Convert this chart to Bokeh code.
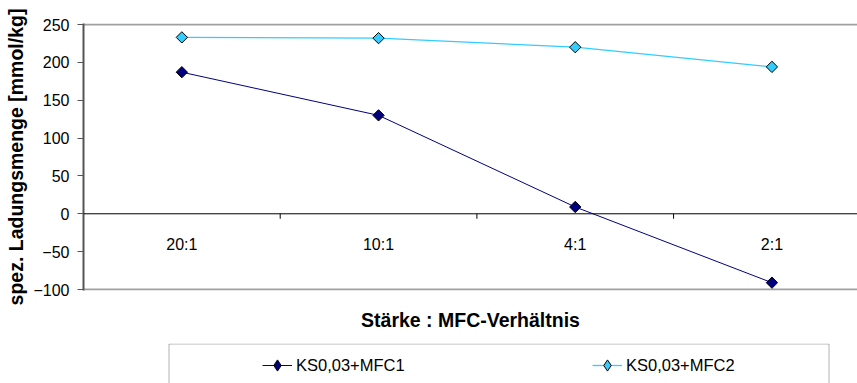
import math
from bokeh.plotting import figure
from bokeh.layouts import column
from bokeh.models import (Range1d, FixedTicker, Span, Legend, LegendItem,
                          BoxAnnotation, ColumnDataSource)
from bokeh.core.properties import value
from bokeh.embed import file_html
from bokeh.resources import INLINE

# ---- data ----
categories = ["20:1", "10:1", "4:1", "2:1"]
mfc1 = [187, 130, 9, -91]
mfc2 = [233, 232, 220, 194]
series_names = ["KS0,03+MFC1", "KS0,03+MFC2"]
y_ticks = [-100, -50, 0, 50, 100, 150, 200, 250]
x_title = "Stärke : MFC-Verhältnis"
y_title = "spez. Ladungsmenge [mmol/kg]"

FONT = "Liberation Sans"
C1_LINE, C1_FILL = "#000080", "#000080"
C2_LINE, C2_FILL = "#33CCFF", "#33CCFF"

xs = list(range(len(categories)))
bounds = [i + 0.5 for i in xs]
src = ColumnDataSource(dict(x=xs, mfc1=mfc1, mfc2=mfc2))

# y range padded by one pixel so the border lines at 250 / -100 stay inside the frame
px_per_unit = 265 / 350
pad = 1 / px_per_unit

p = figure(width=857, height=343, output_backend="svg", toolbar_location=None,
           x_range=Range1d(-0.5, 3.435),
           y_range=Range1d(y_ticks[0] - pad, y_ticks[-1] + pad),
           min_border_left=83, min_border_right=0, min_border_top=23,
           min_border_bottom=53)
p.outline_line_color = None
p.background_fill_color = "white"
p.border_fill_color = "white"

# x axis only carries the title
xa = p.xaxis[0]
xa.ticker = FixedTicker(ticks=[])
xa.axis_line_color = None
xa.major_tick_line_color = None
xa.minor_tick_line_color = None
xa.major_label_standoff = 0
xa.axis_label = x_title
xa.axis_label_text_font = FONT
xa.axis_label_text_font_style = "bold"
xa.axis_label_text_font_size = "19.5px"
xa.axis_label_text_color = "black"
xa.axis_label_standoff = 18

p.xgrid.visible = False
p.ygrid.ticker = FixedTicker(ticks=[y_ticks[0], y_ticks[-1]])
p.ygrid.grid_line_color = "#a0a0a0"
p.ygrid.grid_line_width = 2

ax = p.yaxis[0]
ax.ticker = FixedTicker(ticks=y_ticks)
ax.minor_tick_line_color = None
ax.major_tick_in = 0
ax.major_tick_out = 6
ax.axis_line_color = "#555555"
ax.axis_line_width = 2
ax.major_tick_line_color = "#555555"
ax.major_label_standoff = 8
ax.major_label_text_font = FONT
ax.major_label_text_font_size = "16px"
ax.major_label_text_color = "black"
ax.axis_label = y_title
ax.axis_label_text_font = FONT
ax.axis_label_text_font_style = "bold"
ax.axis_label_text_font_size = "19.5px"
ax.axis_label_text_color = "black"
ax.axis_label_standoff = 3

# zero line acting as the category axis
p.add_layout(Span(location=0, dimension="width", line_color="black", line_width=1))
tick_len = 5 / px_per_unit
p.segment(x0=bounds, y0=[0] * len(bounds), x1=bounds, y1=[-tick_len] * len(bounds),
          line_color="black", line_width=1)
p.text(x=xs, y=[0] * len(xs), text=categories, text_align="center",
       text_baseline="middle", y_offset=31, text_font=value(FONT),
       text_font_size="16px", text_color="black")

p.line("x", "mfc1", source=src, line_color=C1_LINE, line_width=1)
p.scatter("x", "mfc1", source=src, marker="square", size=8, angle=math.pi / 4,
          fill_color=C1_FILL, line_color="black", line_width=1)
p.line("x", "mfc2", source=src, line_color=C2_LINE, line_width=1.3)
p.scatter("x", "mfc2", source=src, marker="square", size=8, angle=math.pi / 4,
          fill_color=C2_FILL, line_color="black", line_width=1)

# ---- legend strip: frame aligned with the chart frame; its y range lies far
# above the data so the series renderers only serve the legend ----
STRIP = 1000
p2 = figure(width=857, height=40, output_backend="svg", toolbar_location=None,
            x_range=Range1d(0, 774), y_range=Range1d(STRIP, STRIP + 40),
            x_axis_location=None, y_axis_location=None,
            min_border_left=83, min_border_right=0, min_border_top=0,
            min_border_bottom=0)
p2.outline_line_color = None
p2.grid.visible = False
p2.background_fill_color = "white"
p2.border_fill_color = "white"

p2.add_layout(BoxAnnotation(left=85.5, right=745.5, top=STRIP + 39.5,
                            bottom=STRIP - 20, fill_alpha=0,
                            line_color="black", line_width=1))

lr1 = p2.line("x", "mfc1", source=src, line_color=C1_LINE, line_width=1)
sr1 = p2.scatter("x", "mfc1", source=src, marker="diamond", size=8,
                 fill_color=C1_FILL, line_color="black", line_width=1)
lr2 = p2.line("x", "mfc2", source=src, line_color=C2_LINE, line_width=1.3)
sr2 = p2.scatter("x", "mfc2", source=src, marker="diamond", size=8,
                 fill_color=C2_FILL, line_color="black", line_width=1)

legend = Legend(items=[LegendItem(label=series_names[0], renderers=[lr1, sr1]),
                       LegendItem(label=series_names[1], renderers=[lr2, sr2])],
                orientation="horizontal", location=(179, 4), padding=0,
                spacing=184, glyph_width=30, glyph_height=28, label_height=28,
                label_width=112, label_standoff=4, border_line_color=None,
                background_fill_alpha=0, label_text_font=FONT,
                label_text_font_size="16.5px", label_text_color="black",
                margin=0)
p2.add_layout(legend)

layout = column(p, p2, spacing=0)
open("out.html", "w").write(file_html(layout, INLINE))
